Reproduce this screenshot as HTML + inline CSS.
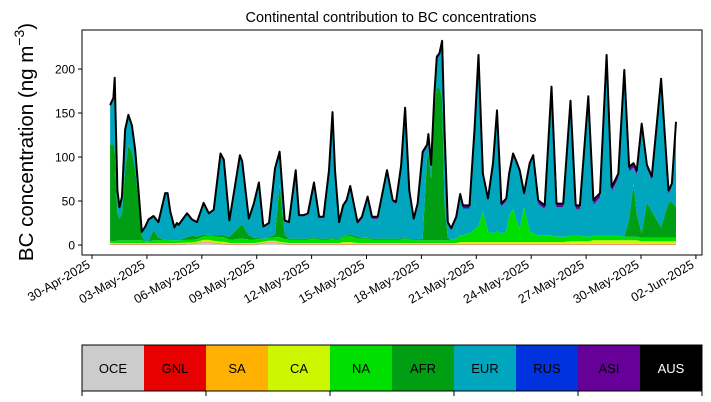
<!DOCTYPE html>
<html><head><meta charset="utf-8"><style>
html,body{margin:0;padding:0;background:#fff;}
svg{display:block;font-family:"Liberation Sans","DejaVu Sans",sans-serif;}
</style></head><body>
<svg id="chart" width="711" height="402" viewBox="0 0 711 402" xmlns="http://www.w3.org/2000/svg">
<text x="391" y="22" font-size="14.5" text-anchor="middle">Continental contribution to BC concentrations</text>
<text transform="translate(33,142) rotate(-90)" font-size="20.5" text-anchor="middle">BC concentration (ng m<tspan font-size="14" dy="-9">−3</tspan><tspan dy="9">)</tspan></text>
<g id="areas"></g>
<g id="yticks"></g>
<g id="xticks"></g>
<rect x="82" y="30" width="620" height="225" fill="none" stroke="#000" stroke-width="1"/>
<g id="cbar"></g>
</svg>
<script>
const days = [0.99,1.17,1.24,1.39,1.50,1.64,1.81,1.99,2.18,2.36,
2.54,2.72,2.91,3.09,3.36,3.63,4.00,4.13,4.28,4.50,
4.64,4.73,5.19,5.47,5.74,6.10,6.38,6.65,7.02,7.20,
7.51,7.75,8.08,8.21,8.57,8.84,9.12,9.36,9.67,10.00,
10.25,10.53,10.76,11.13,11.31,11.58,11.80,12.13,12.41,12.65,
12.95,13.14,13.28,13.50,13.72,13.91,14.11,14.51,14.75,15.06,
15.30,15.61,16.12,16.43,16.61,16.89,17.11,17.34,17.58,17.79,
18.07,18.31,18.38,18.53,18.71,18.84,18.99,19.13,19.26,19.44,
19.63,19.90,20.12,20.27,20.63,20.90,21.12,21.36,21.64,21.91,
22.13,22.37,22.64,22.79,23.01,23.19,23.37,23.61,23.92,24.11,
24.38,24.74,25.11,25.38,25.75,26.15,26.43,26.66,27.12,27.40,
27.76,28.12,28.40,28.76,29.09,29.35,29.59,29.77,30.04,30.32,
30.59,31.10,31.50,31.69,31.91];
const total = [159,167,190,62,43,55,131,148,136,108,
62,15,21,29,33,26,59,59,38,20,
25,23,36,29,26,48,36,40,104,97,
28,59,102,95,30,47,71,21,25,87,
106,28,26,85,34,34,36,71,32,32,
85,151,85,26,45,51,67,26,32,55,
32,32,85,51,49,90,156,62,30,47,
106,114,126,91,172,214,218,232,131,26,
19,32,58,45,45,131,216,81,53,93,
153,47,53,81,104,95,85,59,93,102,
51,45,180,47,47,164,45,45,169,51,
59,216,66,81,199,89,93,85,138,91,
78,189,62,70,140];
const afr = [110,110,105,30,25,30,80,108,100,80,
45,5,0,0,12,3,0,0,0,0,
0,0,3,5,3,2,1,1,2,2,
3,8,14,16,5,2,1,0,1,3,
60,5,1,1,1,1,1,1,1,1,
1,1,1,1,1,1,2,2,1,1,
1,1,1,1,1,1,1,1,1,1,
2,95,100,70,150,174,174,160,40,3,
0,0,0,0,0,0,0,0,0,0,
0,0,0,0,0,0,0,0,0,0,
0,0,0,0,0,0,0,0,0,0,
0,0,0,0,0,20,60,25,5,40,
30,12,40,40,35];
const na = [2,2,2,3,3,3,3,3,3,3,
3,3,2,2,3,3,4,4,3,3,
3,3,3,3,3,4,5,5,5,5,
4,4,5,5,4,4,4,3,3,4,
5,4,4,4,4,4,4,5,4,4,
4,5,4,4,6,6,7,5,5,5,
4,4,4,4,4,4,5,4,3,3,
3,3,3,3,3,3,3,3,3,3,
4,5,8,8,10,14,18,35,12,10,
12,10,12,30,38,25,15,40,12,10,
8,8,8,6,6,6,6,6,5,5,
5,5,5,5,4,4,4,4,4,4,
4,4,4,4,4];
const ca = [1,1,1,1,1,1,1,1,1,1,
1,1,1,1,1,1,1,1,1,1,
1,1,1,1,1,2,2,2,2,2,
1,1,1,1,1,1,1,1,1,1,
1,1,1,1,1,1,1,1,1,1,
1,1,1,1,2,2,2,1,1,1,
1,1,1,1,1,1,1,1,1,1,
1,1,1,1,1,1,1,1,1,1,
1,1,2,2,2,2,2,2,2,2,
2,2,2,2,2,2,2,2,2,2,
2,2,2,2,2,3,3,3,3,4,
4,4,4,4,4,4,4,4,3,3,
3,3,3,3,3];
const oce = [0.5,0.5,0.5,0.5,0.5,0.5,0.5,0.5,0.5,0.5,
0.5,0.5,0.5,0.5,0.5,0.5,0.5,0.5,0.5,0.5,
0.5,0.5,1,1,2,3,3,2,1,1,
0.5,0.5,0.5,0.5,0.5,0.5,1,2,3,3,
2,1,0.5,0.5,0.5,0.5,0.5,0.5,0.5,0.5,
0.5,0.5,0.5,0.5,0.5,0.5,0.5,0.5,0.5,0.5,
0.5,0.5,0.5,0.5,0.5,0.5,0.5,0.5,0.5,0.5,
0.5,0.5,0.5,0.5,0.5,0.5,0.5,0.5,0.5,0.5,
0.5,0.5,0.5,0.5,0.5,0.5,0.5,0.5,0.5,0.5,
0.5,0.5,0.5,0.5,0.5,0.5,0.5,0.5,0.5,0.5,
0.5,0.5,0.5,0.5,0.5,0.5,0.5,0.5,0.5,0.5,
0.5,0.5,0.5,0.5,0.5,0.5,0.5,0.5,0.5,0.5,
0.5,0.5,0.5,0.5,0.5];
const asi = [2,2,2,2,2,2,2,2,2,2,
2,1,1,1,1,1,1,1,1,1,
1,1,1,1,1,1,1,1,2,2,
1,1,2,2,1,1,1,1,1,2,
2,1,1,2,1,1,1,2,1,1,
2,2,2,1,2,2,2,2,2,2,
2,2,2,2,2,2,3,3,2,2,
3,3,3,3,3,3,3,3,3,2,
2,2,3,3,3,3,3,3,3,3,
3,3,3,3,3,3,3,3,3,3,
4,4,4,4,4,4,4,4,5,5,
5,5,5,5,5,5,5,5,4,4,
4,4,4,4,4];
const yTicks = [0,50,100,150,200];
const xTickLabels = ["30-Apr-2025","03-May-2025","06-May-2025","09-May-2025","12-May-2025","15-May-2025","18-May-2025","21-May-2025","24-May-2025","27-May-2025","30-May-2025","02-Jun-2025"];
const xTickDays = [0,3,6,9,12,15,18,21,24,27,30,33];
const regions = ["OCE","GNL","SA","CA","NA","AFR","EUR","RUS","ASI","AUS"];
const regionColors = ["#cccccc","#e60000","#ffb000","#ccf700","#00e000","#009e12","#00a5be","#0033dd","#660099","#000000"];

const NS = "http://www.w3.org/2000/svg";
const X = d => 92 + 18.3 * d;
const Y = v => 245 - 0.88 * v;

const n = days.length;
const gnl = days.map(() => 0.3), sa = days.map(() => 0.5), rus = days.map(() => 0.5);
const layers = [oce, gnl, sa, ca, na, afr, null, rus, asi];
const eur = days.map((_, i) => {
  let s = 0; layers.forEach(l => { if (l) s += (l[i] || 0); });
  return Math.max(0, total[i] - s);
});
layers[6] = eur;

const areas = document.getElementById('areas');
let base = days.map(() => 0);
layers.forEach((l, k) => {
  const top = base.map((b, i) => b + (l[i] || 0));
  let d = "M" + days.map((t, i) => X(t).toFixed(1) + "," + Y(top[i]).toFixed(1)).join(" L");
  for (let i = n - 1; i >= 0; i--) d += " L" + X(days[i]).toFixed(1) + "," + Y(base[i]).toFixed(1);
  d += "Z";
  const p = document.createElementNS(NS, 'path');
  p.setAttribute('d', d);
  p.setAttribute('fill', regionColors[k]);
  
  
  areas.appendChild(p);
  base = top;
});
const line = document.createElementNS(NS, 'path');
line.setAttribute('d', "M" + days.map((t, i) => X(t).toFixed(1) + "," + Y(total[i]).toFixed(1)).join(" L"));
line.setAttribute('fill', 'none');
line.setAttribute('stroke', '#000');
line.setAttribute('stroke-width', '2');
line.setAttribute('stroke-linejoin', 'round');


areas.appendChild(line);

const yg = document.getElementById('yticks');
yTicks.forEach(v => {
  const t = document.createElementNS(NS, 'line');
  t.setAttribute('x1', 78); t.setAttribute('x2', 82);
  t.setAttribute('y1', Y(v)); t.setAttribute('y2', Y(v));
  t.setAttribute('stroke', '#000');
  
  
  yg.appendChild(t);
  const tx = document.createElementNS(NS, 'text');
  tx.setAttribute('x', 75); tx.setAttribute('y', Y(v) + 4.5);
  tx.setAttribute('font-size', '12'); tx.setAttribute('text-anchor', 'end');
  tx.textContent = v;
  
  
  yg.appendChild(tx);
});
const xg = document.getElementById('xticks');
xTickDays.forEach((dd, i) => {
  const x = X(dd);
  const t = document.createElementNS(NS, 'line');
  t.setAttribute('x1', x); t.setAttribute('x2', x);
  t.setAttribute('y1', 255); t.setAttribute('y2', 259);
  t.setAttribute('stroke', '#000');
  
  
  xg.appendChild(t);
  const tx = document.createElementNS(NS, 'text');
  tx.setAttribute('transform', 'translate(' + (x - 1) + ',267) rotate(-30)');
  tx.setAttribute('font-size', '12.5'); tx.setAttribute('text-anchor', 'end');
  tx.textContent = xTickLabels[i];
  
  
  xg.appendChild(tx);
});

const cb = document.getElementById('cbar');
regions.forEach((r, k) => {
  const r0 = 82 + 62 * k;
  const rc = document.createElementNS(NS, 'rect');
  rc.setAttribute('x', r0); rc.setAttribute('y', 345);
  rc.setAttribute('width', 62.5); rc.setAttribute('height', 46);
  rc.setAttribute('fill', regionColors[k]);
  
  
  cb.appendChild(rc);
  const tx = document.createElementNS(NS, 'text');
  tx.setAttribute('x', r0 + 31); tx.setAttribute('y', 373);
  tx.setAttribute('font-size', '13'); tx.setAttribute('text-anchor', 'middle');
  tx.setAttribute('fill', r === 'AUS' ? '#fff' : '#000');
  tx.textContent = r;
  
  
  cb.appendChild(tx);
});
const frame = document.createElementNS(NS, 'rect');
frame.setAttribute('x', 82); frame.setAttribute('y', 345);
frame.setAttribute('width', 620); frame.setAttribute('height', 46);
frame.setAttribute('fill', 'none'); frame.setAttribute('stroke', '#000');


cb.appendChild(frame);
for (let k = 0; k <= 5; k++) {
  const t = document.createElementNS(NS, 'line');
  t.setAttribute('x1', 82 + 124 * k); t.setAttribute('x2', 82 + 124 * k);
  t.setAttribute('y1', 391); t.setAttribute('y2', 396);
  t.setAttribute('stroke', '#000');
  
  
  cb.appendChild(t);
}
</script>
</body></html>
